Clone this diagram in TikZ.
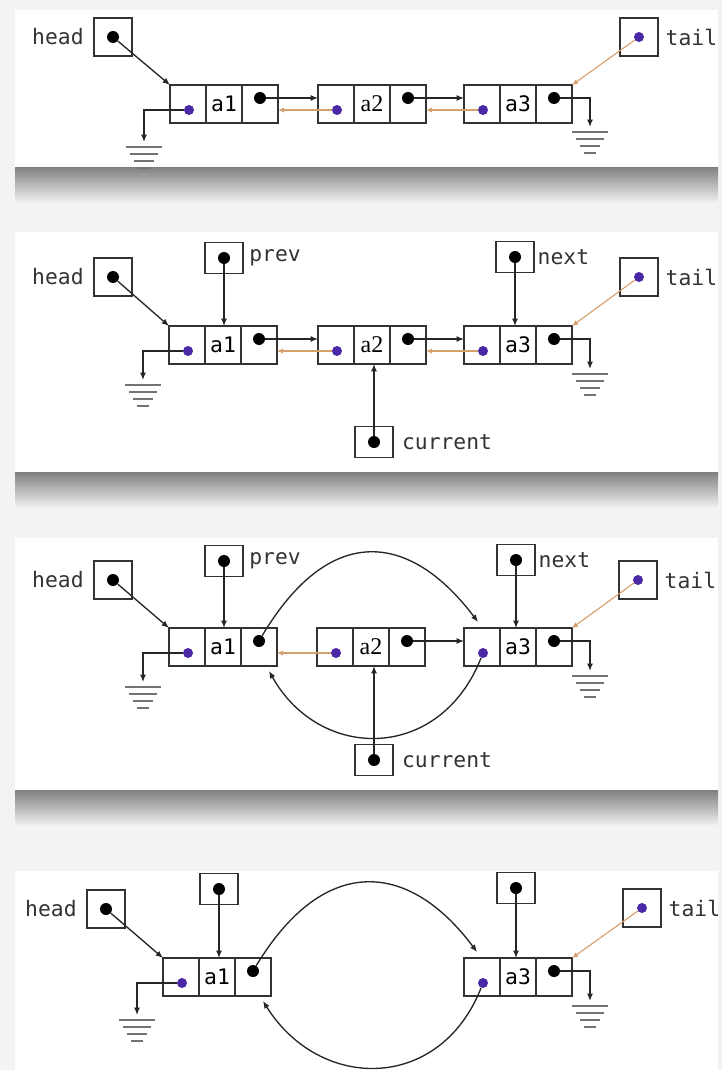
\documentclass[tikz,border=0pt]{standalone}
\usepackage{fontspec}
\setmonofont{DejaVu Sans Mono}
\newfontfamily\valfont{Liberation Serif}
\usetikzlibrary{arrows.meta,positioning,calc}
\definecolor{bgpage}{RGB}{243,243,243}
\definecolor{ptrdot}{RGB}{75,40,165}
\definecolor{backlink}{RGB}{214,160,110}
\definecolor{boxline}{RGB}{50,50,50}
\tikzset{cell/.style={draw=boxline,line width=1.2pt,minimum width=27pt,minimum height=28.5pt,
    inner sep=0pt,outer sep=0pt,font=\ttfamily\fontsize{16}{18}\selectfont},
  var/.style={draw=boxline,line width=1.2pt,minimum width=28.5pt,minimum height=28.5pt,inner sep=0pt},
  varlow/.style={var,minimum height=23.5pt},
  vlabel/.style={font=\ttfamily\fontsize{16}{18}\selectfont,text=black!80,inner sep=1pt},
  bdot/.style={circle,fill=black,minimum size=9pt,inner sep=0pt},
  pdot/.style={circle,fill=ptrdot,minimum size=7.5pt,inner sep=0pt},
  link/.style={-{Latex[length=5.5pt,width=4.5pt]},line width=1pt,black!85},
  back/.style={-{Latex[length=4.5pt,width=4pt]},line width=0.85pt,backlink},
  earth/.style={line width=0.8pt,black!55},
  panel/.style={fill=white},
  shadow/.style={top color=black!50,middle color=black!15,bottom color=bgpage}}
% one list element: name, left x, top y, value
\newcommand{\elem}[4]{%
  \node[cell,anchor=north west] (#1p) at (#2,#3) {};
  \node[cell,anchor=west] (#1v) at (#1p.east) {#4};
  \node[cell,anchor=west] (#1n) at (#1v.east) {};
  \node[pdot] (#1pd) at ($(#1p.center)+(1,6)$) {};
  \node[bdot] (#1nd) at ($(#1n.center)+(0,-6)$) {};}
% ground symbol under a coordinate
\newcommand{\earth}[1]{\foreach \w/\d in {18/5,14/12,10/19,6/26}
  \draw[earth] ([shift={(-\w,\d)}]#1) -- ([shift={(\w,\d)}]#1);}

\begin{document}
\begin{tikzpicture}[x=0.75pt,y=-0.75pt]
\useasboundingbox[fill=bgpage] (0,0) rectangle (722,1070);
% panels
\shade[shadow] (15,167) rectangle (718,203);
\fill[panel] (15,10) rectangle (718,167);
\shade[shadow] (15,472) rectangle (718,508);
\fill[panel] (15,232) rectangle (718,472);
\shade[shadow] (15,790) rectangle (718,826);
\fill[panel] (15,538) rectangle (718,790);
\fill[panel] (15,871) rectangle (718,1075);

% ---- panel 1
\elem{p1a1}{170}{85}{a1}
\elem{p1a2}{318}{85}{\valfont\fontsize{18}{20}\selectfont a2}
\elem{p1a3}{464}{85}{a3}
\node[var] (p1head) at (113,37) {};
\node[bdot] (p1headd) at (p1head) {};
\node[vlabel,left=6pt of p1head] (p1headl) {head};
\node[var] (p1tail) at (639,37) {};
\node[pdot] (p1taild) at (p1tail) {};
\node[vlabel,right=4pt of p1tail] (p1taill) {tail};
\draw[link] (p1headd) -- (p1a1p.north west);
\draw[back] (p1taild) -- (p1a3n.north east);
\draw[link] (p1a1nd) -- (p1a2p.west |- p1a1nd);
\draw[link] (p1a2nd) -- (p1a3p.west |- p1a2nd);
\draw[back] (p1a2pd) -- (p1a1n.east |- p1a2pd);
\draw[back] (p1a3pd) -- (p1a2n.east |- p1a3pd);
\coordinate (p1gl) at ($(p1a1p.south west)+(-26,19)$);
\coordinate (p1gr) at ($(p1a3n.south east)+(18,4)$);
\draw[link] (p1a1pd) -| (p1gl);
\draw[link] (p1a3nd) -| (p1gr);
\earth{p1gl}
\earth{p1gr}

% ---- panel 2
\elem{p2a1}{169}{326}{a1}
\elem{p2a2}{318}{326}{\valfont\fontsize{18}{20}\selectfont a2}
\elem{p2a3}{464}{326}{a3}
\node[var] (p2head) at (113,277) {};
\node[bdot] (p2headd) at (p2head) {};
\node[vlabel,left=6pt of p2head] (p2headl) {head};
\node[var] (p2tail) at (639,277) {};
\node[pdot] (p2taild) at (p2tail) {};
\node[vlabel,right=4pt of p2tail] (p2taill) {tail};
\node[varlow] (p2prev) at (224,258) {};
\node[bdot] (p2prevd) at (p2prev) {};
\node[vlabel,right=3pt of p2prev] (p2prevl) {prev};
\node[varlow] (p2next) at (515,257) {};
\node[bdot] (p2nextd) at (p2next) {};
\node[vlabel,right=1pt of p2next] (p2nextl) {next};
\node[varlow] (p2cur) at (374,442) {};
\node[bdot] (p2curd) at (p2cur) {};
\node[vlabel,right=5pt of p2cur] (p2curl) {current};
\draw[link] (p2headd) -- (p2a1p.north west);
\draw[back] (p2taild) -- (p2a3n.north east);
\draw[link] (p2prevd) -- (p2prevd |- p2a1v.north);
\draw[link] (p2nextd) -- (p2nextd |- p2a3v.north);
\draw[link] (p2curd) -- (p2curd |- p2a2v.south);
\draw[link] (p2a1nd) -- (p2a2p.west |- p2a1nd);
\draw[link] (p2a2nd) -- (p2a3p.west |- p2a2nd);
\draw[back] (p2a2pd) -- (p2a1n.east |- p2a2pd);
\draw[back] (p2a3pd) -- (p2a2n.east |- p2a3pd);
\coordinate (p2gl) at ($(p2a1p.south west)+(-26,16)$);
\coordinate (p2gr) at ($(p2a3n.south east)+(18,5)$);
\draw[link] (p2a1pd) -| (p2gl);
\draw[link] (p2a3nd) -| (p2gr);
\earth{p2gl}
\earth{p2gr}

% ---- panel 3
\elem{p3a1}{169}{628}{a1}
\elem{p3a2}{317}{628}{\valfont\fontsize{18}{20}\selectfont a2}
\elem{p3a3}{464}{628}{a3}
\node[var] (p3head) at (113,580) {};
\node[bdot] (p3headd) at (p3head) {};
\node[vlabel,left=6pt of p3head] (p3headl) {head};
\node[var] (p3tail) at (638,580) {};
\node[pdot] (p3taild) at (p3tail) {};
\node[vlabel,right=4pt of p3tail] (p3taill) {tail};
\node[varlow] (p3prev) at (224,561) {};
\node[bdot] (p3prevd) at (p3prev) {};
\node[vlabel,right=3pt of p3prev] (p3prevl) {prev};
\node[varlow] (p3next) at (516,560) {};
\node[bdot] (p3nextd) at (p3next) {};
\node[vlabel,right=1pt of p3next] (p3nextl) {next};
\node[varlow] (p3cur) at (374,760) {};
\node[bdot] (p3curd) at (p3cur) {};
\node[vlabel,right=5pt of p3cur] (p3curl) {current};
\draw[link] (p3headd) -- (p3a1p.north west);
\draw[back] (p3taild) -- (p3a3n.north east);
\draw[link] (p3prevd) -- (p3prevd |- p3a1v.north);
\draw[link] (p3nextd) -- (p3nextd |- p3a3v.north);
\draw[link] (p3curd) -- (p3curd |- p3a2v.south);
\draw[link] (p3a2nd) -- (p3a3p.west |- p3a2nd);
\draw[back] (p3a2pd) -- (p3a1n.east |- p3a2pd);
\draw[link] (p3a1nd) .. controls (330,522) and (410,532) .. ($(p3a3p.north)+(-4,-6)$);
\draw[link] (p3a3pd) .. controls (440,762) and (320,762) .. ($(p3a1n.south east)+(-8,5)$);
\coordinate (p3gl) at ($(p3a1p.south west)+(-26,16)$);
\coordinate (p3gr) at ($(p3a3n.south east)+(18,5)$);
\draw[link] (p3a1pd) -| (p3gl);
\draw[link] (p3a3nd) -| (p3gr);
\earth{p3gl}
\earth{p3gr}

% ---- panel 4
\elem{p4a1}{163}{958}{a1}
\elem{p4a3}{464}{958}{a3}
\node[var] (p4head) at (106,909) {};
\node[bdot] (p4headd) at (p4head) {};
\node[vlabel,left=6pt of p4head] (p4headl) {head};
\node[var] (p4tail) at (642,908) {};
\node[pdot] (p4taild) at (p4tail) {};
\node[vlabel,right=4pt of p4tail] (p4taill) {tail};
\node[varlow] (p4prev) at (219,889) {};
\node[bdot] (p4prevd) at (p4prev) {};
\node[varlow] (p4next) at (516,888) {};
\node[bdot] (p4nextd) at (p4next) {};
\draw[link] (p4headd) -- (p4a1p.north west);
\draw[back] (p4taild) -- (p4a3n.north east);
\draw[link] (p4prevd) -- (p4prevd |- p4a1v.north);
\draw[link] (p4nextd) -- (p4nextd |- p4a3v.north);
\draw[link] (p4a1nd) .. controls (325,852) and (410,862) .. ($(p4a3p.north)+(-5,-6)$);
\draw[link] (p4a3pd) .. controls (440,1092) and (320,1092) .. ($(p4a1n.south east)+(-8,5)$);
\coordinate (p4gl) at ($(p4a1p.south west)+(-26,19)$);
\coordinate (p4gr) at ($(p4a3n.south east)+(18,5)$);
\draw[link] (p4a1pd) -| (p4gl);
\draw[link] (p4a3nd) -| (p4gr);
\earth{p4gl}
\earth{p4gr}
\end{tikzpicture}
\end{document}
